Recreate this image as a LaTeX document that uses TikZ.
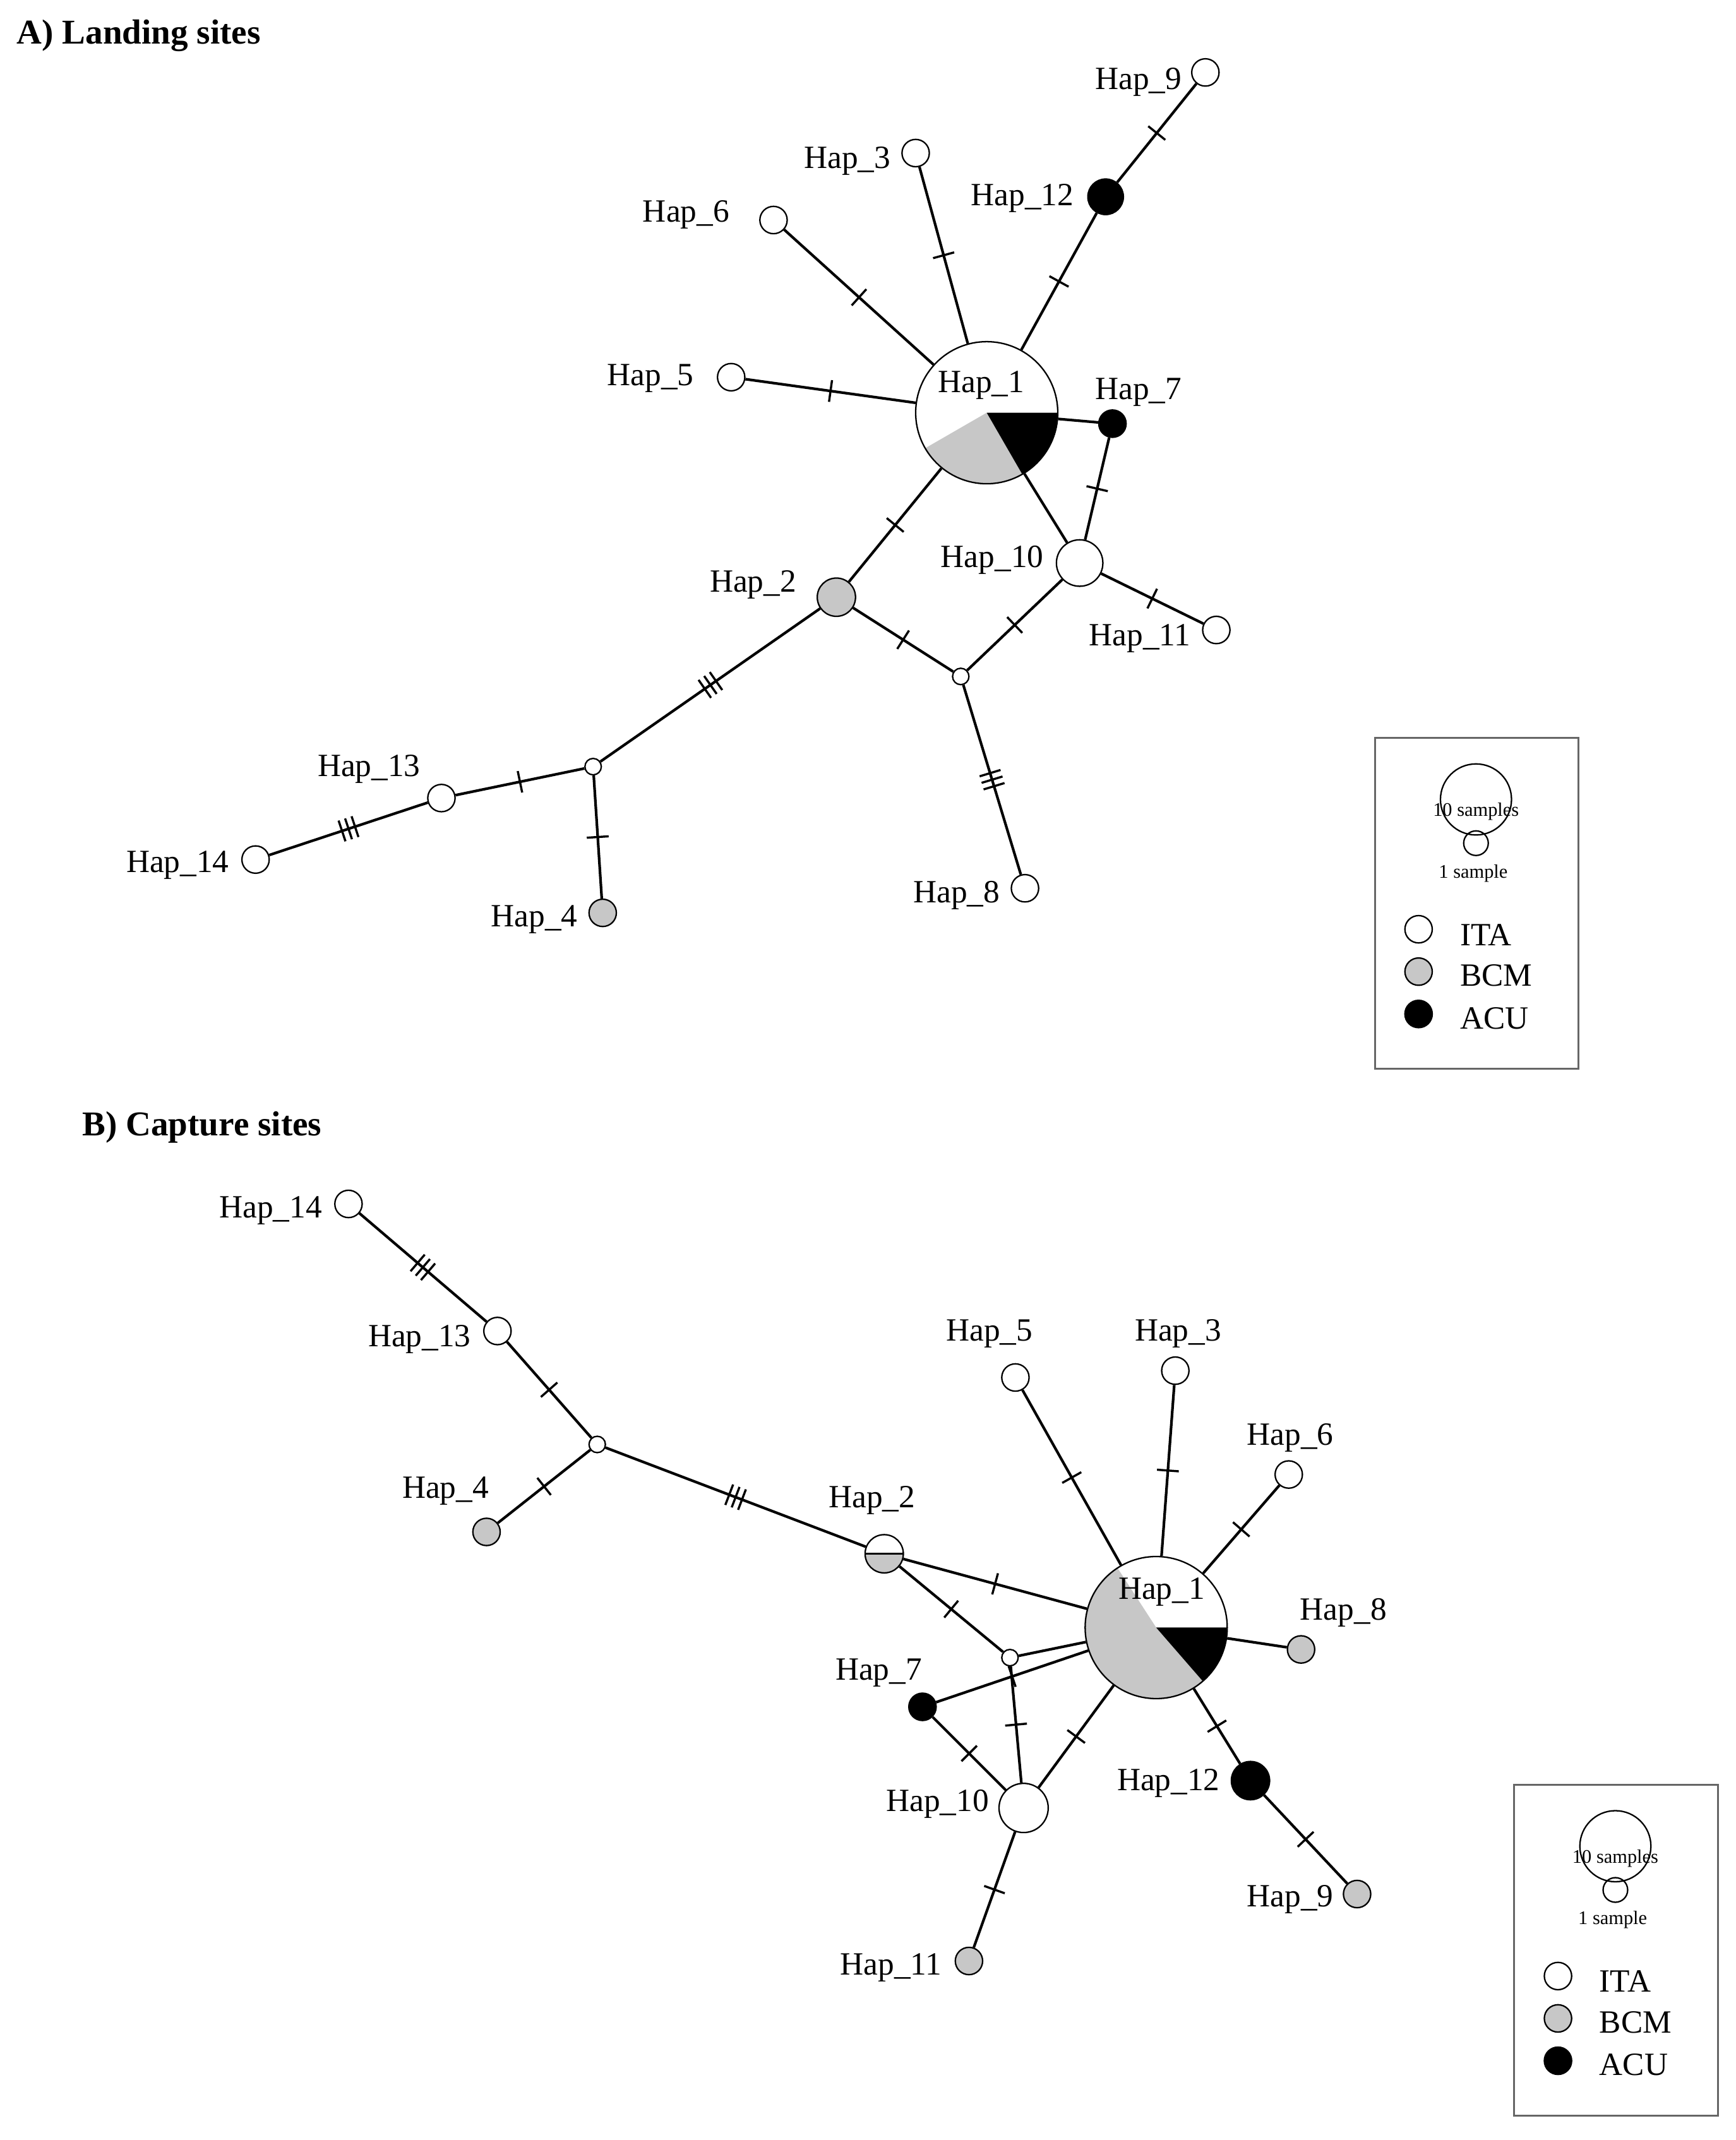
\documentclass[tikz,border=0pt]{standalone}
\usepackage{fontspec}
\setmainfont{Liberation Serif}
\usetikzlibrary{decorations.markings}
\definecolor{hg}{gray}{0.78}
\tikzset{
 hn/.style={circle,draw,line width=0.6pt,inner sep=0pt,fill=white},
 s/.style={hn,minimum size=0.4cm},
 m/.style={hn,minimum size=0.24cm},
 wh/.style={fill=white}, gy/.style={fill=hg}, bk/.style={fill=black},
 lab/.style={font=\fontsize{13.5}{16}\selectfont,inner sep=0pt},
 e/.style={line width=1.1pt},
 t1/.style={e,postaction={decorate},decoration={markings,mark=at position 0.5 with {\draw[line width=0.9pt] (0,-0.16cm)--(0,0.16cm);}}},
 t3/.style={e,postaction={decorate},decoration={markings,mark=at position 0.5 with {\draw[line width=0.9pt] (-0.1cm,-0.16cm)--(-0.1cm,0.16cm) (0,-0.16cm)--(0,0.16cm) (0.1cm,-0.16cm)--(0.1cm,0.16cm);}}},
}
\newcommand{\mylegend}[2]{%
\begin{scope}[shift={(#1,#2)}]
 \draw[line width=0.8pt,draw=gray!80!black] (1006,540) rectangle (1155,782);
 \draw[line width=0.6pt] (1080,585) circle (0.52cm);
 \draw[line width=0.6pt] (1080,617) circle (0.18cm);
 \node[font=\fontsize{8}{9}\selectfont,inner sep=0pt] at (1080,594) {10 samples};
 \node[font=\fontsize{8}{9}\selectfont,inner sep=0pt] at (1078,639) {1 sample};
 \node[s,wh] at (1038,680) {}; \node[s,gy] at (1038,711) {}; \node[s,bk] at (1038,742) {};
 \node[lab,anchor=west] at (1068,684) {ITA};
 \node[lab,anchor=west] at (1068,714) {BCM};
 \node[lab,anchor=west] at (1068,745) {ACU};
\end{scope}}
\begin{document}
\begin{tikzpicture}[x=0.02cm,y=-0.02cm]
\useasboundingbox (0,0) rectangle (1270,1566);
\fill[white] (0,0) rectangle (1270,1566);
% ---------- Panel A ----------
\node[font=\bfseries\fontsize{14.5}{17}\selectfont,anchor=west,inner sep=0pt] at (12,26) {A) Landing sites};
\fill[hg] (722,302) -- ++(210:1.04cm) arc[start angle=210,end angle=300,radius=1.04cm] -- cycle;
\fill[black] (722,302) -- ++(300:1.04cm) arc[start angle=300,end angle=360,radius=1.04cm] -- cycle;
\node[hn,minimum size=2.08cm,fill=none] (a1) at (722,302) {};
\node[hn,gy,minimum size=0.56cm] (a2) at (612,437) {};
\node[s,wh] (a3) at (670,112) {};
\node[s,wh] (a5) at (535,276) {};
\node[s,wh] (a6) at (566,161) {};
\node[s,bk] (a7) at (814,310) {};
\node[s,wh] (a8) at (750,650) {};
\node[s,wh] (a9) at (882,53) {};
\node[hn,wh,minimum size=0.68cm] (a10) at (790,412) {};
\node[s,wh] (a11) at (890,461) {};
\node[hn,bk,minimum size=0.52cm] (a12) at (809,144) {};
\node[s,wh] (a13) at (323,584) {};
\node[s,wh] (a14) at (187,629) {};
\node[s,gy] (a4) at (441,668) {};
\node[m] (am1) at (703,495) {};
\node[m] (am2) at (434,561) {};
\draw[t1] (a1)--(a3); \draw[t1] (a1)--(a6); \draw[t1] (a1)--(a5); \draw[t1] (a1)--(a12);
\draw[t1] (a12)--(a9); \draw[e] (a1)--(a7); \draw[t1] (a7)--(a10); \draw[e] (a1)--(a10);
\draw[t1] (a10)--(a11); \draw[t1] (a1)--(a2); \draw[t1] (a2)--(am1); \draw[t1] (am1)--(a10);
\draw[t3] (am1)--(a8); \draw[t3] (a2)--(am2); \draw[t1] (am2)--(a13); \draw[t3] (a13)--(a14);
\draw[t1] (am2)--(a4);
\node[lab] at (718,282) {Hap\_1}; \node[lab] at (620,118) {Hap\_3}; \node[lab] at (502,157) {Hap\_6};
\node[lab] at (476,277) {Hap\_5}; \node[lab] at (748,145) {Hap\_12}; \node[lab] at (833,60) {Hap\_9};
\node[lab] at (833,287) {Hap\_7}; \node[lab] at (726,410) {Hap\_10}; \node[lab] at (834,467) {Hap\_11};
\node[lab] at (551,428) {Hap\_2}; \node[lab] at (270,563) {Hap\_13}; \node[lab] at (130,633) {Hap\_14};
\node[lab] at (391,673) {Hap\_4}; \node[lab] at (700,655) {Hap\_8};
\mylegend{0}{0}
% ---------- Panel B ----------
\node[font=\bfseries\fontsize{14.5}{17}\selectfont,anchor=west,inner sep=0pt] at (60,825) {B) Capture sites};
\fill[hg] (846,1191) -- ++(123:1.04cm) arc[start angle=123,end angle=311,radius=1.04cm] -- cycle;
\fill[black] (846,1191) -- ++(311:1.04cm) arc[start angle=311,end angle=360,radius=1.04cm] -- cycle;
\node[hn,minimum size=2.08cm,fill=none] (b1) at (846,1191) {};
\fill[hg] (647,1137) -- ++(180:0.28cm) arc[start angle=180,end angle=360,radius=0.28cm] -- cycle;
\draw[line width=0.6pt] (647,1137) ++(180:0.28cm) -- ++(0.56cm,0);
\node[hn,fill=none,minimum size=0.56cm] (b2) at (647,1137) {};
\node[s,wh] (b3) at (860,1003) {};
\node[s,wh] (b5) at (743,1008) {};
\node[s,wh] (b6) at (943,1079) {};
\node[s,gy] (b8) at (952,1207) {};
\node[hn,bk,minimum size=0.56cm] (b12) at (915,1303) {};
\node[s,gy] (b9) at (993,1386) {};
\node[hn,wh,minimum size=0.72cm] (b10) at (749,1323) {};
\node[s,gy] (b11) at (709,1435) {};
\node[s,bk] (b7) at (675,1249) {};
\node[s,wh] (b13) at (364,974) {};
\node[s,wh] (b14) at (255,881) {};
\node[s,gy] (b4) at (356,1121) {};
\node[m] (bm1) at (739,1213) {};
\node[m] (bm2) at (437,1057) {};
\draw[t3] (b14)--(b13); \draw[t1] (b13)--(bm2); \draw[t1] (bm2)--(b4); \draw[t3] (bm2)--(b2);
\draw[t1] (b2)--(b1); \draw[t1] (b2)--(bm1); \draw[e] (bm1)--(b1); \draw[t1] (bm1)--(b10);
\draw[t1] (b7)--(b1); \draw[t1] (b7)--(b10); \draw[t1] (b10)--(b1);
\draw[t1] (b1)--(b5); \draw[t1] (b1)--(b3); \draw[t1] (b1)--(b6); \draw[e] (b1)--(b8);
\draw[t1] (b1)--(b12); \draw[t1] (b12)--(b9); \draw[t1] (b10)--(b11);
\node[lab] at (198,886) {Hap\_14}; \node[lab] at (307,980) {Hap\_13}; \node[lab] at (326,1091) {Hap\_4};
\node[lab] at (638,1098) {Hap\_2}; \node[lab] at (724,976) {Hap\_5}; \node[lab] at (862,976) {Hap\_3};
\node[lab] at (944,1052) {Hap\_6}; \node[lab] at (850,1165) {Hap\_1}; \node[lab] at (983,1180) {Hap\_8};
\node[lab] at (643,1224) {Hap\_7}; \node[lab] at (855,1305) {Hap\_12}; \node[lab] at (686,1320) {Hap\_10};
\node[lab] at (944,1390) {Hap\_9}; \node[lab] at (652,1440) {Hap\_11};
\mylegend{102}{766}
\end{tikzpicture}
\end{document}
